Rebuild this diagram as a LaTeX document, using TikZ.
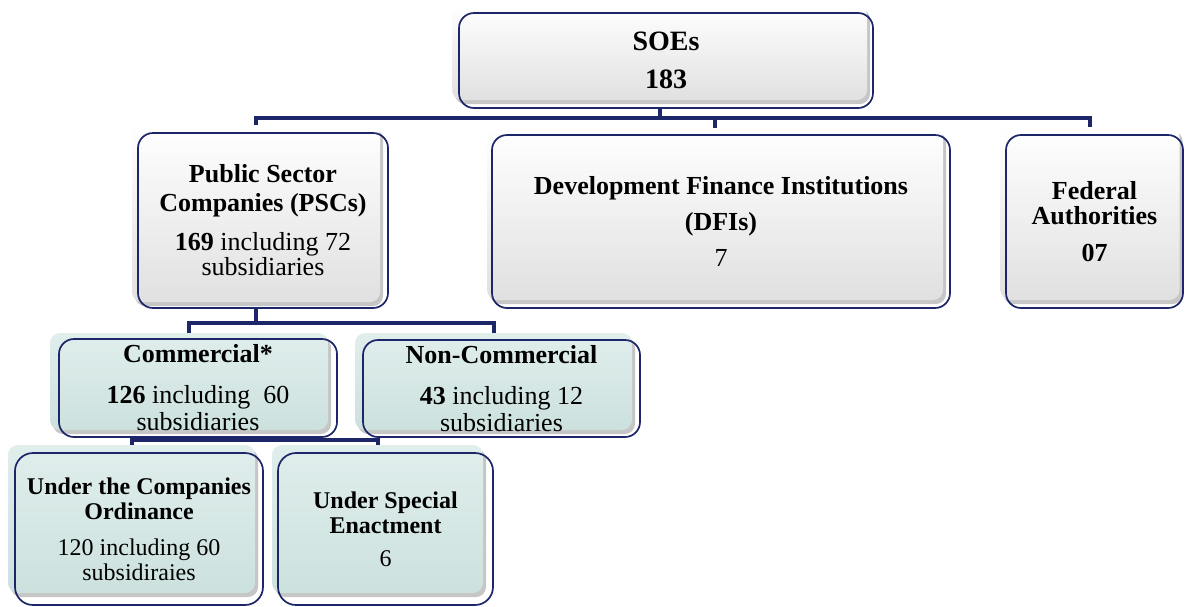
\documentclass[tikz,border=0pt]{standalone}
\usepackage{fontspec}
\setmainfont{Liberation Serif}
\usetikzlibrary{shadows,calc}
\definecolor{navy}{RGB}{28,38,105}
\definecolor{tealA}{RGB}{224,238,236}
\definecolor{tealB}{RGB}{204,225,222}
\pgfdeclarelayer{bg}
\pgfsetlayers{bg,main}
\tikzset{
  grayfill/.style={rounded corners=10pt, inner sep=0pt, draw=none,
    top color=white, bottom color=gray!24,
    drop shadow={shadow xshift=3pt, shadow yshift=-4pt, opacity=0.45}},
  tealfill/.style={rounded corners=10pt, inner sep=0pt, draw=none,
    top color=tealA, bottom color=tealB,
    drop shadow={shadow xshift=3pt, shadow yshift=-4pt, opacity=0.45}},
  outl/.style={draw=navy, line width=1.7pt, rounded corners=15pt, inner sep=0pt, align=center},
  big/.style={font=\fontsize{26}{29}\selectfont},
  small/.style={font=\fontsize{24}{25}\selectfont},
  conn/.style={draw=navy, line width=4pt}
}
\begin{document}
\begin{tikzpicture}[x=1pt,y=-1pt]
\useasboundingbox (0,0) rectangle (1185,606);
% fill boxes
\node[grayfill, minimum width=415pt, minimum height=95pt] (soe) at (659.5,52.5) {};
\node[grayfill, minimum width=248pt, minimum height=177pt] (psc) at (256,213.5) {};
\node[grayfill, minimum width=456pt, minimum height=172pt] (dfi) at (715,214) {};
\node[grayfill, minimum width=179pt, minimum height=173pt] (fed) at (1090,213.5) {};
\node[tealfill, minimum width=278pt, minimum height=97pt] (com) at (189,381.5) {};
\node[tealfill, minimum width=277pt, minimum height=97pt] (non) at (493.5,381.5) {};
\node[tealfill, minimum width=247pt, minimum height=148pt] (uco) at (131.5,519) {};
\node[tealfill, minimum width=211pt, minimum height=148pt] (use) at (377.5,519) {};
% outlines with text
\node[outl, minimum width=414pt, minimum height=95pt, font=\fontsize{28}{30}\selectfont] (soeO) at (666,60.5)
  {\bfseries SOEs\\[8pt]\bfseries 183};
\node[outl, big, minimum width=250pt, minimum height=175pt] (pscO) at (263,220.5)
  {\bfseries Public Sector\\\bfseries Companies (PSCs)\\[10pt]\textbf{169} including 72\\[-4pt]subsidiaries};
\node[outl, big, minimum width=458pt, minimum height=173pt] (dfiO) at (721,221.5)
  {\bfseries Development Finance Institutions\\[7pt]\bfseries (DFIs)\\[7pt]7};
\node[outl, big, minimum width=177pt, minimum height=173pt] (fedO) at (1094.5,221.5)
  {\bfseries Federal\\[-4pt]\bfseries Authorities\\[8pt]\bfseries 07};
\node[outl, font=\fontsize{26}{27}\selectfont, minimum width=278pt, minimum height=98pt] (comO) at (198,388)
  {\bfseries Commercial*\\[14pt]\textbf{126} including\ \ 60\\subsidiaries};
\node[outl, font=\fontsize{26}{27}\selectfont, minimum width=277pt, minimum height=97pt] (nonO) at (501.5,388.5)
  {\bfseries Non-Commercial\\[14pt]\textbf{43} including 12\\subsidiaries};
\node[outl, small, minimum width=248pt, minimum height=152pt, rounded corners=18pt] (ucoO) at (139,529)
  {\bfseries Under the Companies\\\bfseries Ordinance\\[11pt]120 including 60\\subsidiraies};
\node[outl, small, minimum width=215pt, minimum height=152pt, rounded corners=18pt] (useO) at (385.5,529)
  {\bfseries Under Special\\\bfseries Enactment\\[8pt]6};
% connectors
\coordinate (bus1) at (0,118);
\coordinate (bus2) at (0,323);
\coordinate (bus3) at (0,440);
\begin{pgfonlayer}{bg}
\draw[conn] (soeO.south -| soe.south) -- (soe.south |- bus1);
\draw[conn] (psc.north) -- (psc.north |- bus1) -- (fed.north |- bus1) -- (fed.north);
\draw[conn] (dfi.north |- bus1) -- (dfi.north);
\draw[conn] (pscO.south -| psc.south) -- (psc.south |- bus2);
\draw[conn] (com.north) -- (com.north |- bus2) -- (non.north |- bus2) -- (non.north);
\draw[conn] (uco.north) -- (uco.north |- bus3) -- (use.north |- bus3) -- (use.north);
\end{pgfonlayer}
\end{tikzpicture}
\end{document}
